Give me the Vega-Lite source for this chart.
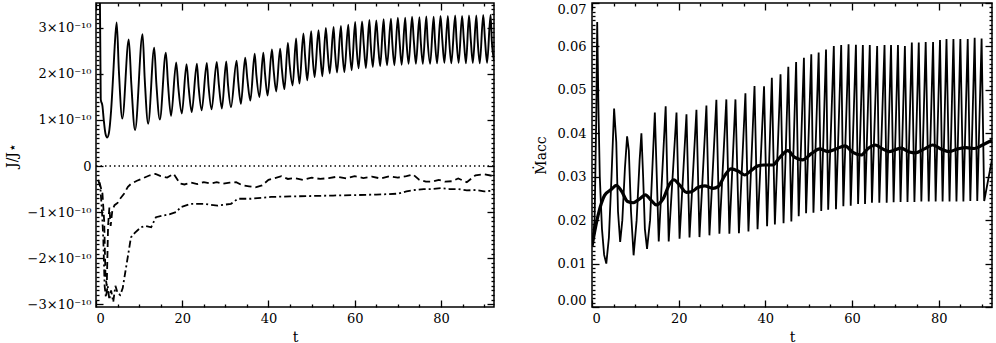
{
 "$schema": "https://vega.github.io/schema/vega-lite/v6.json",
 "padding": {"left": 4, "top": 1, "right": 2, "bottom": 0},
 "spacing": 37,
 "config": {
  "view": {"stroke": "black", "strokeWidth": 1.5},
  "font": "DejaVu Serif",
  "axis": {"domain": false, "grid": false, "labelFont": "DejaVu Serif", "labelFontSize": 13, "labelColor": "black", "tickColor": "black", "tickWidth": 1.3, "titleFont": "DejaVu Serif", "titleFontSize": 14, "titleFontWeight": "normal", "titleColor": "black"}
 },
 "hconcat": [
  {
   "width": 398, "height": 304,
   "resolve": {"axis": {"x": "independent", "y": "independent"}},
   "layer": [
    {
     "data": {"values": [
      {"t":0,"v":4.0},{"t":0.9,"v":3.7},{"t":1.1,"v":1.45},{"t":1.5,"v":1.3},{"t":1.8,"v":1.0},{"t":2.2,"v":0.7},{"t":2.6,"v":0.62},{"t":3.0,"v":0.72},{"t":3.5,"v":1.2},{"t":4.0,"v":2.0},{"t":4.4,"v":2.7},{"t":4.8,"v":3.12},
      {"t":5.3,"v":2.08},{"t":6.1,"v":1.03},
      {"t":7.6,"v":2.75},{"t":8.2,"v":1.77},{"t":9.05,"v":0.78},
      {"t":10.8,"v":2.86},{"t":11.3,"v":1.89},{"t":12.1,"v":0.92},
      {"t":13.5,"v":2.57},{"t":14.0,"v":1.79},{"t":14.8,"v":1.01},
      {"t":16.2,"v":2.46},{"t":16.7,"v":1.78},{"t":17.4,"v":1.09},
      {"t":18.6,"v":2.25},{"t":19.1,"v":1.70},{"t":19.9,"v":1.14},
      {"t":21.0,"v":2.21},{"t":21.5,"v":1.69},{"t":22.2,"v":1.17},
      {"t":23.4,"v":2.22},{"t":23.8,"v":1.72},{"t":24.5,"v":1.21},
      {"t":25.7,"v":2.24},{"t":26.1,"v":1.74},{"t":26.8,"v":1.23},
      {"t":28.0,"v":2.26},{"t":28.5,"v":1.76},{"t":29.2,"v":1.25},
      {"t":30.2,"v":2.27},{"t":30.6,"v":1.78},{"t":31.3,"v":1.28},
      {"t":32.6,"v":2.29},{"t":33.0,"v":1.82},{"t":33.6,"v":1.35},
      {"t":34.6,"v":2.35},{"t":35.1,"v":1.89},{"t":35.8,"v":1.42},
      {"t":36.8,"v":2.44},{"t":37.2,"v":1.97},{"t":37.9,"v":1.50},
      {"t":38.8,"v":2.46},{"t":39.2,"v":2.00},{"t":39.8,"v":1.53},
      {"t":40.8,"v":2.53},{"t":41.2,"v":2.08},{"t":41.8,"v":1.62},
      {"t":42.7,"v":2.55},{"t":43.1,"v":2.11},{"t":43.7,"v":1.67},
      {"t":44.5,"v":2.67},{"t":44.9,"v":2.21},{"t":45.6,"v":1.75},
      {"t":46.4,"v":2.77},{"t":46.7,"v":2.28},{"t":47.2,"v":1.79},
      {"t":48.1,"v":2.88},{"t":48.5,"v":2.37},{"t":49.0,"v":1.86},
      {"t":49.9,"v":2.93},{"t":50.2,"v":2.43},{"t":50.7,"v":1.93},
      {"t":51.6,"v":2.95},{"t":52.0,"v":2.45},{"t":52.5,"v":1.95},
      {"t":53.3,"v":3.00},{"t":53.7,"v":2.51},{"t":54.2,"v":2.01},
      {"t":55.1,"v":3.02},{"t":55.4,"v":2.53},{"t":55.9,"v":2.03},
      {"t":56.8,"v":3.04},{"t":57.1,"v":2.54},{"t":57.6,"v":2.04},
      {"t":58.5,"v":3.07},{"t":58.8,"v":2.58},{"t":59.3,"v":2.08},
      {"t":60.1,"v":3.13},{"t":60.4,"v":2.63},{"t":60.9,"v":2.12},
      {"t":61.7,"v":3.14},{"t":62.1,"v":2.64},{"t":62.6,"v":2.13},
      {"t":63.4,"v":3.17},{"t":63.7,"v":2.66},{"t":64.2,"v":2.15},
      {"t":65.0,"v":3.16},{"t":65.4,"v":2.66},{"t":65.9,"v":2.17},
      {"t":66.7,"v":3.19},{"t":67.0,"v":2.69},{"t":67.5,"v":2.19},
      {"t":68.4,"v":3.20},{"t":68.7,"v":2.70},{"t":69.2,"v":2.19},
      {"t":70.0,"v":3.22},{"t":70.4,"v":2.71},{"t":70.9,"v":2.20},
      {"t":71.7,"v":3.22},{"t":72.0,"v":2.72},{"t":72.5,"v":2.22},
      {"t":73.3,"v":3.24},{"t":73.7,"v":2.73},{"t":74.2,"v":2.22},
      {"t":75.0,"v":3.23},{"t":75.3,"v":2.73},{"t":75.8,"v":2.22},
      {"t":76.6,"v":3.25},{"t":76.9,"v":2.74},{"t":77.5,"v":2.22},
      {"t":78.3,"v":3.24},{"t":78.6,"v":2.74},{"t":79.1,"v":2.23},
      {"t":79.9,"v":3.26},{"t":80.3,"v":2.75},{"t":80.8,"v":2.24},
      {"t":81.6,"v":3.26},{"t":81.9,"v":2.75},{"t":82.4,"v":2.23},
      {"t":83.3,"v":3.27},{"t":83.6,"v":2.76},{"t":84.1,"v":2.24},
      {"t":84.9,"v":3.26},{"t":85.3,"v":2.75},{"t":85.8,"v":2.23},
      {"t":86.5,"v":3.27},{"t":86.9,"v":2.76},{"t":87.4,"v":2.24},
      {"t":88.2,"v":3.27},{"t":88.5,"v":2.75},{"t":89.0,"v":2.23},
      {"t":89.8,"v":3.28},{"t":90.2,"v":2.76},{"t":90.7,"v":2.24},
      {"t":91.5,"v":3.28},{"t":91.8,"v":2.70},{"t":92.3,"v":2.30}
     ]},
     "mark": {"type": "line", "color": "black", "strokeWidth": 1.9, "clip": true, "interpolate": "monotone"},
     "encoding": {
      "x": {"field": "t", "type": "quantitative", "scale": {"domain": [0, 92.3], "nice": false, "zero": false},
       "axis": {"orient": "bottom", "values": [0,20,40,60,80], "tickSize": 7, "offset": -7,
        "labelPadding": 5, "title": "t", "titlePadding": 5}},
      "y": {"field": "v", "type": "quantitative", "scale": {"domain": [-3.06, 3.54], "nice": false, "zero": false},
       "axis": {"orient": "left", "values": [-3,-2,-1,0,1,2,3], "tickSize": 7, "offset": -7,
        "labelExpr": "datum.value == 0 ? '0' : (datum.value < 0 ? '−' : '') + abs(datum.value) + '×10⁻¹⁰'",
        "labelPadding": 5, "title": "J/J⋆", "titlePadding": 8}}
     }
    },
    {
     "data": {"values": [
      {"t":0.8,"v":-0.35},{"t":1.5,"v":-0.6},{"t":1.9,"v":-1.2},{"t":2.2,"v":-2.4},{"t":2.5,"v":-2.6},{"t":2.8,"v":-1.3},{"t":3.1,"v":-0.9},{"t":3.4,"v":-1.3},{"t":3.8,"v":-0.95},{"t":4.3,"v":-0.85},{"t":5.0,"v":-0.8},{"t":5.5,"v":-0.72},{"t":6.5,"v":-0.6},{"t":7.4,"v":-0.45},{"t":8.2,"v":-0.38},{"t":9.5,"v":-0.32},{"t":11.0,"v":-0.26},{"t":12.5,"v":-0.2},{"t":13.8,"v":-0.17},{"t":15.0,"v":-0.22},{"t":16.5,"v":-0.25},{"t":18.0,"v":-0.17},{"t":19.5,"v":-0.38},{"t":20.5,"v":-0.40},{"t":22,"v":-0.36},{"t":23.5,"v":-0.39},{"t":25,"v":-0.35},{"t":26.5,"v":-0.38},{"t":28,"v":-0.35},{"t":29.5,"v":-0.38},{"t":31,"v":-0.36},{"t":32.5,"v":-0.35},{"t":34,"v":-0.42},{"t":35.5,"v":-0.44},{"t":37,"v":-0.46},{"t":38.5,"v":-0.42},{"t":40,"v":-0.30},{"t":41.5,"v":-0.26},{"t":43,"v":-0.22},{"t":44.5,"v":-0.28},{"t":46,"v":-0.26},{"t":48,"v":-0.30},{"t":50,"v":-0.25},{"t":52,"v":-0.28},{"t":54,"v":-0.26},{"t":56,"v":-0.23},{"t":58,"v":-0.27},{"t":60,"v":-0.22},{"t":62,"v":-0.26},{"t":64,"v":-0.23},{"t":66,"v":-0.27},{"t":68,"v":-0.22},{"t":70,"v":-0.25},{"t":72,"v":-0.22},{"t":73.5,"v":-0.18},{"t":75,"v":-0.30},{"t":76.5,"v":-0.34},{"t":78,"v":-0.34},{"t":79.5,"v":-0.30},{"t":81,"v":-0.34},{"t":82.5,"v":-0.33},{"t":84,"v":-0.27},{"t":86,"v":-0.35},{"t":88,"v":-0.20},{"t":90,"v":-0.18},{"t":92.3,"v":-0.22}
     ]},
     "mark": {"type": "line", "color": "black", "strokeWidth": 1.8, "strokeDash": [7, 4], "clip": true},
     "encoding": {
      "x": {"field": "t", "type": "quantitative",
       "axis": {"orient": "top", "values": [0,20,40,60,80], "tickSize": 7, "offset": -7, "labels": false, "title": null}},
      "y": {"field": "v", "type": "quantitative",
       "axis": {"orient": "right", "values": [-3,-2,-1,0,1,2,3], "tickSize": 7, "offset": -7, "labels": false, "title": null}}
     }
    },
    {
     "data": {"values": [
      {"t":0.5,"v":-0.30},{"t":1.0,"v":-0.45},{"t":1.4,"v":-1.0},{"t":1.7,"v":-1.6},{"t":2.0,"v":-2.6},{"t":2.3,"v":-2.85},{"t":2.7,"v":-2.6},{"t":3.1,"v":-2.9},{"t":3.5,"v":-2.7},{"t":4.0,"v":-2.95},{"t":4.5,"v":-2.6},{"t":5.0,"v":-2.75},{"t":5.6,"v":-2.8},{"t":6.2,"v":-2.65},{"t":6.8,"v":-2.3},{"t":7.5,"v":-1.9},{"t":8.1,"v":-1.55},{"t":9.0,"v":-1.45},{"t":10.4,"v":-1.33},{"t":11.5,"v":-1.30},{"t":12.8,"v":-1.33},{"t":13.9,"v":-1.11},{"t":15.8,"v":-1.07},{"t":17.0,"v":-1.05},{"t":18.6,"v":-1.0},{"t":19.7,"v":-0.89},{"t":22.0,"v":-0.82},{"t":25.0,"v":-0.82},{"t":28.2,"v":-0.86},{"t":31.3,"v":-0.82},{"t":32.9,"v":-0.71},{"t":36.0,"v":-0.71},{"t":40.6,"v":-0.67},{"t":45.0,"v":-0.66},{"t":50,"v":-0.65},{"t":55,"v":-0.64},{"t":60,"v":-0.63},{"t":65,"v":-0.62},{"t":70,"v":-0.60},{"t":72,"v":-0.55},{"t":74,"v":-0.52},{"t":76,"v":-0.50},{"t":78,"v":-0.50},{"t":80,"v":-0.48},{"t":82,"v":-0.50},{"t":84,"v":-0.50},{"t":86,"v":-0.53},{"t":88,"v":-0.52},{"t":90,"v":-0.55},{"t":92.3,"v":-0.53}
     ]},
     "mark": {"type": "line", "color": "black", "strokeWidth": 1.8, "strokeDash": [7, 3, 2, 3], "clip": true},
     "encoding": {
      "x": {"field": "t", "type": "quantitative",
       "axis": {"orient": "bottom", "values": [5,10,15,25,30,35,45,50,55,65,70,75,85,90], "tickSize": 3, "offset": -3, "labels": false, "title": null}},
      "y": {"field": "v", "type": "quantitative",
       "axis": {"orient": "left", "values": [-2.9,-2.8,-2.7,-2.6,-2.5,-2.4,-2.3,-2.2,-2.1,-1.9,-1.8,-1.7,-1.6,-1.5,-1.4,-1.3,-1.2,-1.1,-0.9,-0.8,-0.7,-0.6,-0.5,-0.4,-0.3,-0.2,-0.1,0.1,0.2,0.3,0.4,0.5,0.6,0.7,0.8,0.9,1.1,1.2,1.3,1.4,1.5,1.6,1.7,1.8,1.9,2.1,2.2,2.3,2.4,2.5,2.6,2.7,2.8,2.9,3.1,3.2,3.3,3.4,3.5], "tickSize": 3, "offset": -3, "labels": false, "title": null}}
     }
    },
    {
     "data": {"values": [{"t":0,"v":0},{"t":92.3,"v":0}]},
     "mark": {"type": "line", "color": "black", "strokeWidth": 1.5, "strokeDash": [1.5, 3], "clip": true},
     "encoding": {
      "x": {"field": "t", "type": "quantitative",
       "axis": {"orient": "top", "values": [5,10,15,25,30,35,45,50,55,65,70,75,85,90], "tickSize": 3, "offset": -3, "labels": false, "title": null}},
      "y": {"field": "v", "type": "quantitative",
       "axis": {"orient": "right", "values": [-2.9,-2.8,-2.7,-2.6,-2.5,-2.4,-2.3,-2.2,-2.1,-1.9,-1.8,-1.7,-1.6,-1.5,-1.4,-1.3,-1.2,-1.1,-0.9,-0.8,-0.7,-0.6,-0.5,-0.4,-0.3,-0.2,-0.1,0.1,0.2,0.3,0.4,0.5,0.6,0.7,0.8,0.9,1.1,1.2,1.3,1.4,1.5,1.6,1.7,1.8,1.9,2.1,2.2,2.3,2.4,2.5,2.6,2.7,2.8,2.9,3.1,3.2,3.3,3.4,3.5], "tickSize": 3, "offset": -3, "labels": false, "title": null}}
     }
    }
   ]
  },
  {
   "width": 400, "height": 304,
   "resolve": {"axis": {"x": "independent", "y": "independent"}},
   "layer": [
    {
     "data": {"values": [
      {"t":0,"v":0.0140},{"t":0.6,"v":0.020},{"t":1.0,"v":0.045},{"t":1.2,"v":0.0656},{"t":1.5,"v":0.045},{"t":1.8,"v":0.030},{"t":2.3,"v":0.018},{"t":2.8,"v":0.012},{"t":3.3,"v":0.0100},{"t":3.9,"v":0.016},{"t":4.5,"v":0.030},
      {"t":5.1,"v":0.0457},{"t":5.6,"v":0.038},{"t":6.0,"v":0.022},{"t":6.5,"v":0.0150},{"t":7.0,"v":0.020},{"t":7.6,"v":0.032},
      {"t":8.1,"v":0.0393},{"t":8.5,"v":0.036},{"t":9.0,"v":0.022},{"t":9.6,"v":0.0119},{"t":10.3,"v":0.020},{"t":11.0,"v":0.034},
      {"t":11.4,"v":0.0400},{"t":11.8,"v":0.030},{"t":12.2,"v":0.018},{"t":12.7,"v":0.0134},{"t":13.4,"v":0.020},
      {"t":14.5,"v":0.0448},{"t":15.4,"v":0.0151},
      {"t":17.0,"v":0.0462},{"t":17.7,"v":0.0151},
      {"t":19.5,"v":0.0448},{"t":20.2,"v":0.0157},
      {"t":21.8,"v":0.0444},{"t":22.5,"v":0.0160},
      {"t":24.1,"v":0.0454},{"t":24.8,"v":0.0161},
      {"t":26.4,"v":0.0464},{"t":27.1,"v":0.0165},
      {"t":28.7,"v":0.0477},{"t":29.4,"v":0.0169},
      {"t":31.0,"v":0.0478},{"t":31.7,"v":0.0169},
      {"t":33.1,"v":0.0478},{"t":33.9,"v":0.0170},
      {"t":35.4,"v":0.0492},{"t":36.1,"v":0.0174},
      {"t":37.5,"v":0.0509},{"t":38.2,"v":0.0179},
      {"t":39.7,"v":0.0508},{"t":40.4,"v":0.0186},
      {"t":41.5,"v":0.0528},{"t":42.2,"v":0.0190},
      {"t":43.5,"v":0.0536},{"t":44.2,"v":0.0193},
      {"t":45.3,"v":0.0553},{"t":46.0,"v":0.0197},
      {"t":47.1,"v":0.0564},{"t":47.7,"v":0.0209},
      {"t":48.9,"v":0.0574},{"t":49.4,"v":0.0216},
      {"t":50.6,"v":0.0582},{"t":51.1,"v":0.0217},
      {"t":52.3,"v":0.0586},{"t":52.9,"v":0.0221},
      {"t":54.0,"v":0.0593},{"t":54.5,"v":0.0224},
      {"t":55.8,"v":0.0601},{"t":56.3,"v":0.0225},
      {"t":57.5,"v":0.0603},{"t":58.0,"v":0.0232},
      {"t":59.2,"v":0.0605},{"t":59.7,"v":0.0233},
      {"t":60.9,"v":0.0604},{"t":61.4,"v":0.0237},
      {"t":62.5,"v":0.0603},{"t":63.0,"v":0.0237},
      {"t":64.1,"v":0.0603},{"t":64.6,"v":0.0240},
      {"t":65.8,"v":0.0601},{"t":66.3,"v":0.0240},
      {"t":67.5,"v":0.0603},{"t":68.0,"v":0.0240},
      {"t":69.0,"v":0.0603},{"t":69.6,"v":0.0241},
      {"t":70.6,"v":0.0603},{"t":71.2,"v":0.0242},
      {"t":72.2,"v":0.0601},{"t":72.8,"v":0.0242},
      {"t":73.8,"v":0.0609},{"t":74.4,"v":0.0242},
      {"t":75.4,"v":0.0609},{"t":76.0,"v":0.0243},
      {"t":77.0,"v":0.0610},{"t":77.7,"v":0.0243},
      {"t":78.7,"v":0.0610},{"t":79.3,"v":0.0243},
      {"t":80.3,"v":0.0615},{"t":80.9,"v":0.0243},
      {"t":81.8,"v":0.0617},{"t":82.5,"v":0.0243},
      {"t":83.4,"v":0.0617},{"t":84.1,"v":0.0243},
      {"t":85.0,"v":0.0617},{"t":85.7,"v":0.0243},
      {"t":86.7,"v":0.0617},{"t":87.3,"v":0.0244},
      {"t":88.3,"v":0.0620},{"t":88.9,"v":0.0244},
      {"t":89.9,"v":0.0618},{"t":90.5,"v":0.0244},
      {"t":92.3,"v":0.0340}
     ]},
     "mark": {"type": "line", "color": "black", "strokeWidth": 1.8, "clip": true},
     "encoding": {
      "x": {"field": "t", "type": "quantitative", "scale": {"domain": [0, 92.3], "nice": false, "zero": false},
       "axis": {"orient": "bottom", "values": [0,20,40,60,80], "tickSize": 7, "offset": -7,
        "labelPadding": 5, "title": "t", "titlePadding": 5}},
      "y": {"field": "v", "type": "quantitative", "scale": {"domain": [0, 0.07], "nice": false, "zero": false},
       "axis": {"orient": "left", "values": [0,0.01,0.02,0.03,0.04,0.05,0.06,0.07], "tickSize": 7, "offset": -7, "format": ".2f",
        "labelFlush": true, "labelPadding": 6, "title": "Ṁacc", "titlePadding": 9}}
     }
    },
    {
     "data": {"values": [
      {"t":0,"v":0.0140},{"t":0.25,"v":0.0154},{"t":1.4,"v":0.0211},{"t":2.9,"v":0.0257},{"t":4.5,"v":0.0271},{"t":5.6,"v":0.0280},{"t":6.8,"v":0.0267},{"t":8.2,"v":0.0243},{"t":9.5,"v":0.0240},{"t":11.0,"v":0.0249},{"t":12.3,"v":0.0258},{"t":13.7,"v":0.0245},{"t":14.8,"v":0.0235},{"t":16.4,"v":0.0249},{"t":17.9,"v":0.0283},{"t":18.9,"v":0.0293},{"t":20.2,"v":0.0281},{"t":21.8,"v":0.0264},{"t":22.9,"v":0.0265},{"t":24.4,"v":0.0275},{"t":26.0,"v":0.0279},{"t":27.9,"v":0.0273},{"t":29.1,"v":0.0277},{"t":30.6,"v":0.0302},{"t":32.1,"v":0.0318},{"t":33.7,"v":0.0313},{"t":35.2,"v":0.0304},{"t":36.7,"v":0.0314},{"t":38.3,"v":0.0325},{"t":39.8,"v":0.0327},{"t":41.7,"v":0.0327},{"t":43.3,"v":0.0344},{"t":45.2,"v":0.0360},{"t":46.7,"v":0.0345},{"t":48.6,"v":0.0339},{"t":50.6,"v":0.0353},{"t":52.5,"v":0.0364},{"t":54.4,"v":0.0358},{"t":56.3,"v":0.0364},{"t":58.4,"v":0.0371},{"t":60.2,"v":0.0356},{"t":62.1,"v":0.0350},{"t":63.6,"v":0.0364},{"t":65.3,"v":0.0373},{"t":67.1,"v":0.0364},{"t":68.6,"v":0.0358},{"t":71.3,"v":0.0366},{"t":73.2,"v":0.0357},{"t":74.7,"v":0.0355},{"t":76.7,"v":0.0364},{"t":78.6,"v":0.0373},{"t":80.5,"v":0.0364},{"t":82.4,"v":0.0358},{"t":84.4,"v":0.0364},{"t":86.3,"v":0.0367},{"t":88.2,"v":0.0365},{"t":90.1,"v":0.0373},{"t":92.3,"v":0.0384}
     ]},
     "mark": {"type": "line", "color": "black", "strokeWidth": 3.2, "clip": true, "interpolate": "monotone"},
     "encoding": {
      "x": {"field": "t", "type": "quantitative",
       "axis": {"orient": "top", "values": [0,20,40,60,80], "tickSize": 7, "offset": -7, "labels": false, "title": null}},
      "y": {"field": "v", "type": "quantitative",
       "axis": {"orient": "right", "values": [0,0.01,0.02,0.03,0.04,0.05,0.06,0.07], "tickSize": 7, "offset": -7, "labels": false, "title": null}}
     }
    },
    {
     "data": {"values": []},
     "mark": {"type": "point", "opacity": 0},
     "encoding": {
      "x": {"field": "t", "type": "quantitative",
       "axis": {"orient": "bottom", "values": [5,10,15,25,30,35,45,50,55,65,70,75,85,90], "tickSize": 3, "offset": -3, "labels": false, "title": null}},
      "y": {"field": "v", "type": "quantitative",
       "axis": {"orient": "left", "values": [0.001,0.002,0.003,0.004,0.005,0.006,0.007,0.008,0.009,0.011,0.012,0.013,0.014,0.015,0.016,0.017,0.018,0.019,0.021,0.022,0.023,0.024,0.025,0.026,0.027,0.028,0.029,0.031,0.032,0.033,0.034,0.035,0.036,0.037,0.038,0.039,0.041,0.042,0.043,0.044,0.045,0.046,0.047,0.048,0.049,0.051,0.052,0.053,0.054,0.055,0.056,0.057,0.058,0.059,0.061,0.062,0.063,0.064,0.065,0.066,0.067,0.068,0.069], "tickSize": 3, "offset": -3, "labels": false, "title": null}}
     }
    },
    {
     "data": {"values": []},
     "mark": {"type": "point", "opacity": 0},
     "encoding": {
      "x": {"field": "t", "type": "quantitative",
       "axis": {"orient": "top", "values": [5,10,15,25,30,35,45,50,55,65,70,75,85,90], "tickSize": 3, "offset": -3, "labels": false, "title": null}},
      "y": {"field": "v", "type": "quantitative",
       "axis": {"orient": "right", "values": [0.001,0.002,0.003,0.004,0.005,0.006,0.007,0.008,0.009,0.011,0.012,0.013,0.014,0.015,0.016,0.017,0.018,0.019,0.021,0.022,0.023,0.024,0.025,0.026,0.027,0.028,0.029,0.031,0.032,0.033,0.034,0.035,0.036,0.037,0.038,0.039,0.041,0.042,0.043,0.044,0.045,0.046,0.047,0.048,0.049,0.051,0.052,0.053,0.054,0.055,0.056,0.057,0.058,0.059,0.061,0.062,0.063,0.064,0.065,0.066,0.067,0.068,0.069], "tickSize": 3, "offset": -3, "labels": false, "title": null}}
     }
    }
   ]
  }
 ]
}
